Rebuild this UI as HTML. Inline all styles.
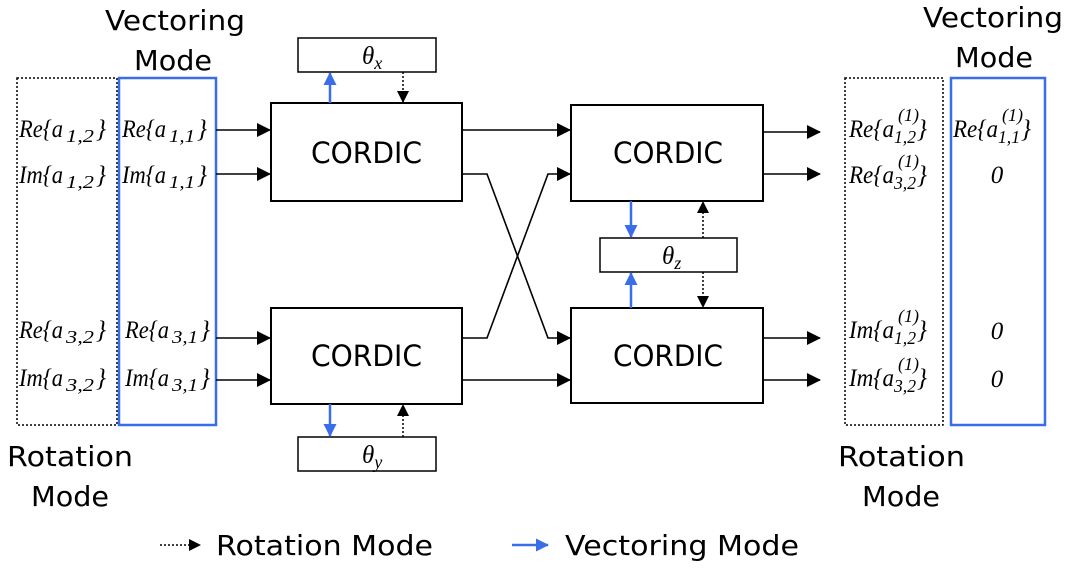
<!DOCTYPE html>
<html><head><meta charset="utf-8"><style>
html,body{margin:0;padding:0;background:#fff;}
svg{display:block}
text.lbl,tspan.lbl{font-family:"Liberation Serif",serif;font-style:italic;font-size:25px;fill:#000}
tspan.sub{font-size:18px}
.sans{font-family:"DejaVu Sans","Liberation Sans",sans-serif;font-size:28px;fill:#000}
.cord{font-family:"DejaVu Sans","Liberation Sans",sans-serif;font-size:29px;fill:#000}
</style></head><body>
<svg width="1071" height="568" viewBox="0 0 1071 568" xmlns="http://www.w3.org/2000/svg">
<defs>
<marker id="ak" markerWidth="14" markerHeight="14" refX="13" refY="7" orient="auto" markerUnits="userSpaceOnUse"><path d="M0,0 L14,7 L0,14 z" fill="#000"/></marker>
<marker id="ab" markerWidth="13" markerHeight="13" refX="12" refY="6.5" orient="auto" markerUnits="userSpaceOnUse"><path d="M0,0 L13,6.5 L0,13 z" fill="#3a6ee8"/></marker>
<marker id="ad" markerWidth="12" markerHeight="12" refX="11" refY="6" orient="auto" markerUnits="userSpaceOnUse"><path d="M0,0 L12,6 L0,12 z" fill="#000"/></marker>
</defs>

<rect x="17" y="78" width="100" height="347" fill="none" stroke="#000" stroke-width="1.5" stroke-dasharray="2,2"/>
<rect x="119" y="78" width="97" height="347" fill="none" stroke="#3a6ee8" stroke-width="2.5"/>
<rect x="845" y="78" width="98" height="347" fill="none" stroke="#000" stroke-width="1.5" stroke-dasharray="2,2"/>
<rect x="951" y="78" width="94" height="347" fill="none" stroke="#3a6ee8" stroke-width="2.5"/>

<text class="sans" x="105" y="30" textLength="140" lengthAdjust="spacingAndGlyphs">Vectoring</text>
<text class="sans" x="134" y="70" textLength="78" lengthAdjust="spacingAndGlyphs">Mode</text>
<text class="sans" x="923" y="27" textLength="140" lengthAdjust="spacingAndGlyphs">Vectoring</text>
<text class="sans" x="955" y="67" textLength="78" lengthAdjust="spacingAndGlyphs">Mode</text>
<text class="sans" x="7" y="466" textLength="126" lengthAdjust="spacingAndGlyphs">Rotation</text>
<text class="sans" x="31" y="506" textLength="78" lengthAdjust="spacingAndGlyphs">Mode</text>
<text class="sans" x="838" y="466" textLength="127" lengthAdjust="spacingAndGlyphs">Rotation</text>
<text class="sans" x="862" y="506" textLength="78" lengthAdjust="spacingAndGlyphs">Mode</text>

<!-- left labels -->
<text class="lbl" x="19" y="137"><tspan textLength="44" lengthAdjust="spacingAndGlyphs">Re{a</tspan><tspan class="sub" x="66" y="142" textLength="28" lengthAdjust="spacingAndGlyphs">1,2</tspan><tspan x="96" y="137">}</tspan></text>
<text class="lbl" x="19" y="183"><tspan textLength="44" lengthAdjust="spacingAndGlyphs">Im{a</tspan><tspan class="sub" x="66" y="188" textLength="28" lengthAdjust="spacingAndGlyphs">1,2</tspan><tspan x="96" y="183">}</tspan></text>
<text class="lbl" x="19" y="338"><tspan textLength="44" lengthAdjust="spacingAndGlyphs">Re{a</tspan><tspan class="sub" x="66" y="343" textLength="28" lengthAdjust="spacingAndGlyphs">3,2</tspan><tspan x="96" y="338">}</tspan></text>
<text class="lbl" x="19" y="386"><tspan textLength="44" lengthAdjust="spacingAndGlyphs">Im{a</tspan><tspan class="sub" x="66" y="391" textLength="28" lengthAdjust="spacingAndGlyphs">3,2</tspan><tspan x="96" y="386">}</tspan></text>
<text class="lbl" x="122" y="137"><tspan textLength="44" lengthAdjust="spacingAndGlyphs">Re{a</tspan><tspan class="sub" x="169" y="142" textLength="26" lengthAdjust="spacingAndGlyphs">1,1</tspan><tspan x="197" y="137">}</tspan></text>
<text class="lbl" x="122" y="183"><tspan textLength="44" lengthAdjust="spacingAndGlyphs">Im{a</tspan><tspan class="sub" x="169" y="188" textLength="26" lengthAdjust="spacingAndGlyphs">1,1</tspan><tspan x="197" y="183">}</tspan></text>
<text class="lbl" x="125" y="338"><tspan textLength="44" lengthAdjust="spacingAndGlyphs">Re{a</tspan><tspan class="sub" x="172" y="343" textLength="26" lengthAdjust="spacingAndGlyphs">3,1</tspan><tspan x="200" y="338">}</tspan></text>
<text class="lbl" x="125" y="386"><tspan textLength="44" lengthAdjust="spacingAndGlyphs">Im{a</tspan><tspan class="sub" x="172" y="391" textLength="26" lengthAdjust="spacingAndGlyphs">3,1</tspan><tspan x="200" y="386">}</tspan></text>

<!-- right labels -->
<text class="lbl" x="849" y="137"><tspan textLength="45" lengthAdjust="spacingAndGlyphs">Re{a</tspan><tspan class="sub" x="898" y="121">(1)</tspan><tspan class="sub" x="894" y="143" textLength="22" lengthAdjust="spacingAndGlyphs">1,2</tspan><tspan x="917" y="137">}</tspan></text>
<text class="lbl" x="849" y="183"><tspan textLength="45" lengthAdjust="spacingAndGlyphs">Re{a</tspan><tspan class="sub" x="898" y="167">(1)</tspan><tspan class="sub" x="894" y="189" textLength="22" lengthAdjust="spacingAndGlyphs">3,2</tspan><tspan x="917" y="183">}</tspan></text>
<text class="lbl" x="849" y="338"><tspan textLength="45" lengthAdjust="spacingAndGlyphs">Im{a</tspan><tspan class="sub" x="898" y="322">(1)</tspan><tspan class="sub" x="894" y="344" textLength="22" lengthAdjust="spacingAndGlyphs">1,2</tspan><tspan x="917" y="338">}</tspan></text>
<text class="lbl" x="849" y="386"><tspan textLength="45" lengthAdjust="spacingAndGlyphs">Im{a</tspan><tspan class="sub" x="898" y="370">(1)</tspan><tspan class="sub" x="894" y="392" textLength="22" lengthAdjust="spacingAndGlyphs">3,2</tspan><tspan x="917" y="386">}</tspan></text>
<text class="lbl" x="953" y="137"><tspan textLength="45" lengthAdjust="spacingAndGlyphs">Re{a</tspan><tspan class="sub" x="1002" y="121">(1)</tspan><tspan class="sub" x="998" y="143" textLength="22" lengthAdjust="spacingAndGlyphs">1,1</tspan><tspan x="1021" y="137">}</tspan></text>
<text class="lbl" x="997" y="183" text-anchor="middle">0</text>
<text class="lbl" x="997" y="339" text-anchor="middle">0</text>
<text class="lbl" x="997" y="387" text-anchor="middle">0</text>

<g fill="#fff" stroke="#000" stroke-width="2">
<rect x="271" y="103" width="191" height="98"/>
<rect x="271" y="308" width="191" height="96"/>
<rect x="571" y="105" width="192" height="96"/>
<rect x="571" y="308" width="192" height="95"/>
<rect x="298" y="38" width="138" height="34" stroke-width="1.5"/>
<rect x="298" y="437" width="138" height="34" stroke-width="1.5"/>
<rect x="600" y="238" width="137" height="34" stroke-width="1.5"/>
</g>
<text class="cord" x="311" y="163" textLength="111" lengthAdjust="spacingAndGlyphs">CORDIC</text>
<text class="cord" x="311" y="366" textLength="111" lengthAdjust="spacingAndGlyphs">CORDIC</text>
<text class="cord" x="613" y="163" textLength="110" lengthAdjust="spacingAndGlyphs">CORDIC</text>
<text class="cord" x="613" y="366" textLength="110" lengthAdjust="spacingAndGlyphs">CORDIC</text>
<text class="lbl" x="362" y="64">θ<tspan class="sub" dy="5">x</tspan></text>
<text class="lbl" x="362" y="463">θ<tspan class="sub" dy="5">y</tspan></text>
<text class="lbl" x="662" y="264">θ<tspan class="sub" dy="5">z</tspan></text>

<g stroke="#000" stroke-width="1.6" fill="none" marker-end="url(#ak)">
<line x1="216" y1="130" x2="270" y2="130"/>
<line x1="216" y1="174" x2="270" y2="174"/>
<line x1="216" y1="338" x2="270" y2="338"/>
<line x1="216" y1="380" x2="270" y2="380"/>
<line x1="462" y1="130" x2="570" y2="130"/>
<polyline points="462,174 487,174 548,338 570,338"/>
<polyline points="462,338 487,338 548,174 570,174"/>
<line x1="462" y1="380" x2="570" y2="380"/>
<line x1="763" y1="132" x2="820" y2="132"/>
<line x1="763" y1="174" x2="820" y2="174"/>
<line x1="763" y1="338" x2="820" y2="338"/>
<line x1="763" y1="380" x2="820" y2="380"/>
</g>

<g stroke="#3a6ee8" stroke-width="2.5" marker-end="url(#ab)">
<line x1="330" y1="103" x2="330" y2="73"/>
<line x1="330" y1="404" x2="330" y2="436"/>
<line x1="631" y1="201" x2="631" y2="237"/>
<line x1="631" y1="308" x2="631" y2="273"/>
</g>
<g stroke="#000" stroke-width="1.5" stroke-dasharray="2,2" marker-end="url(#ad)">
<line x1="403" y1="72" x2="403" y2="102"/>
<line x1="403" y1="437" x2="403" y2="405"/>
<line x1="703" y1="238" x2="703" y2="202"/>
<line x1="703" y1="272" x2="703" y2="307"/>
</g>

<g>
<line x1="160" y1="545" x2="200" y2="545" stroke="#000" stroke-width="1.5" stroke-dasharray="2,2" marker-end="url(#ad)"/>
<text class="sans" x="216" y="555" textLength="217" lengthAdjust="spacingAndGlyphs">Rotation Mode</text>
<line x1="512" y1="545" x2="548" y2="545" stroke="#3a6ee8" stroke-width="2.5" marker-end="url(#ab)"/>
<text class="sans" x="565" y="555" textLength="234" lengthAdjust="spacingAndGlyphs">Vectoring Mode</text>
</g>
</svg>
</body></html>
